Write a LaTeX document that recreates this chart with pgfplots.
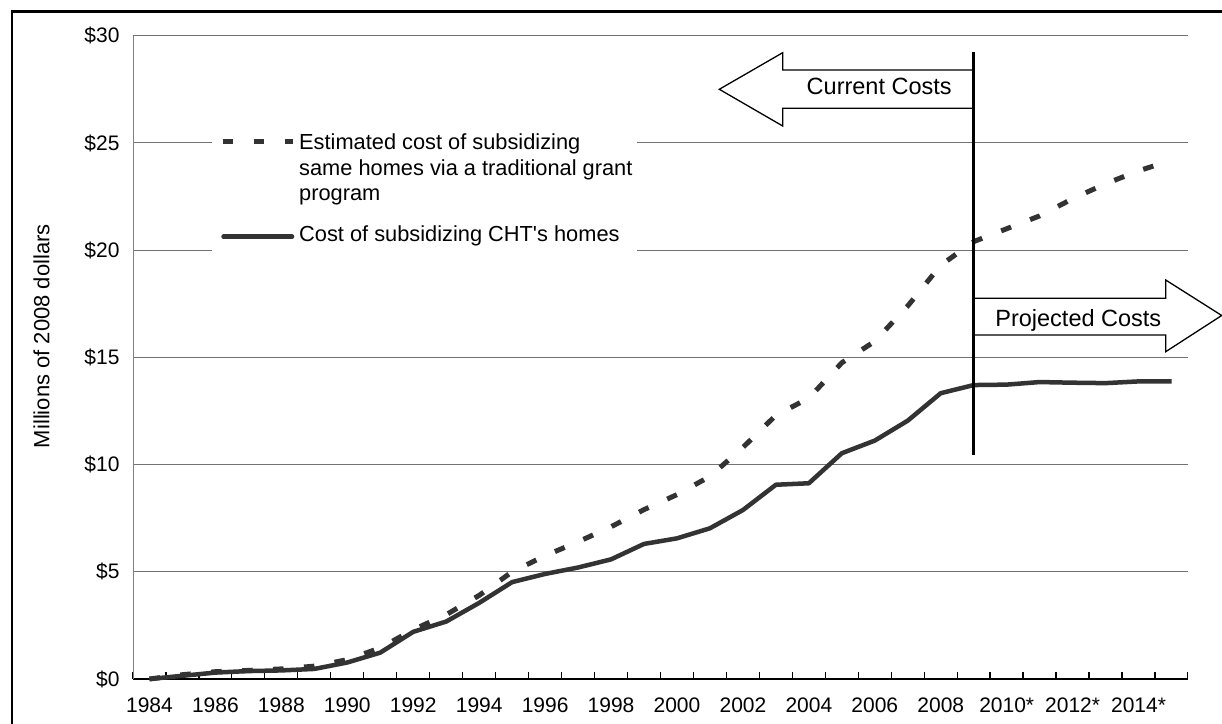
\documentclass[border=0pt]{standalone}
\usepackage{fontspec}
\setmainfont{Liberation Sans}[Ligatures=TeXOff]
\usepackage{pgfplots}
\pgfplotsset{compat=1.18}
\definecolor{ln}{HTML}{333333}
\begin{document}
\begin{tikzpicture}
\useasboundingbox (0,0) rectangle (1222pt,723pt);
\begin{axis}[
  at={(133pt,44pt)}, anchor=south west,
  scale only axis, width=1055pt, height=643.2pt,
  xmin=1983.5, xmax=2015.5, ymin=0, ymax=30,
  axis x line*=bottom, axis y line*=left,
  x axis line style={black, line width=1.3pt, -},
  y axis line style={black!50, line width=1pt, -},
  xtick={1984,1986,...,2014},
  xticklabels={1984,1986,1988,1990,1992,1994,1996,1998,2000,2002,2004,2006,2008,2010*,2012*,2014*},
  minor xtick={1983.5,1984.5,...,2015.5},
  ytick={0,5,...,30},
  yticklabels={\$0,\$5,\$10,\$15,\$20,\$25,\$30},
  ymajorgrids, major grid style={black!55, line width=1pt},
  tick align=inside,
  major tick length=0pt, minor tick length=7pt,
  minor x tick style={black, line width=1.2pt},
  ytick style={draw=none},
  /pgf/number format/assume math mode=true,
  xticklabel style={yshift=-15.7pt, font=\fontsize{21}{25}\selectfont},
  yticklabel style={xshift=-10pt, font=\fontsize{21}{25}\selectfont},
  ylabel={Millions of 2008 dollars},
  every axis y label/.style={at={(axis description cs:-0.0793,0.533)}, rotate=90, anchor=base, font=\fontsize{22}{26}\selectfont},
  clip=false,
]
\addplot[ln, line width=5pt, dash pattern=on 10.6pt off 20.4pt] coordinates {
(1984,0) (1985,0.2) (1986,0.34) (1987,0.4) (1988,0.47) (1989,0.6) (1990,0.9) (1991,1.45)
(1992,2.3) (1993,3.0) (1994,3.9) (1995,5.0) (1996,5.75) (1997,6.4) (1998,7.1) (1999,7.9)
(2000,8.6) (2001,9.45) (2002,10.8) (2003,12.3) (2004,13.1) (2005,14.75) (2006,15.75) (2007,17.4)
(2008,19.3) (2009,20.4) (2010,21.0) (2011,21.6) (2012,22.4) (2013,23.1) (2014,23.7) (2015,24.2)
};
\addplot[ln, line width=4.5pt, line join=round] coordinates {
(1984,0) (1985,0.15) (1986,0.3) (1987,0.37) (1988,0.4) (1989,0.47) (1990,0.77) (1991,1.23)
(1992,2.2) (1993,2.68) (1994,3.55) (1995,4.52) (1996,4.9) (1997,5.2) (1998,5.58) (1999,6.3)
(2000,6.56) (2001,7.03) (2002,7.88) (2003,9.06) (2004,9.13) (2005,10.53) (2006,11.12) (2007,12.05)
(2008,13.33) (2009,13.71) (2010,13.73) (2011,13.85) (2012,13.82) (2013,13.8) (2014,13.88) (2015,13.88)
};
\coordinate (vtop) at (axis cs:2009,29.23);
\coordinate (vbot) at (axis cs:2009,10.45);
\end{axis}
\begin{scope}[x=1pt, y=-1pt, yshift=723pt]
  % outer frame
  \draw[black, line width=2.5pt] (12,730) -- (12,11.7) -- (1230,11.7);
  % legend
  \fill[white] (212,112) rectangle (637,256);
  \draw[ln, line width=5pt, dash pattern=on 10.6pt off 20.4pt] (222.7,141.7) -- (293.3,141.7);
  \draw[ln, line width=4.5pt, line cap=round] (223.5,236.7) -- (292,236.7);
  \begin{scope}[every node/.style={anchor=base west, inner sep=0pt, font=\fontsize{21.8}{26}\selectfont}]
    \node at (299,149.5) {Estimated cost of subsidizing};
    \node at (299,175.5) {same homes via a traditional grant};
    \node at (299,201) {program};
    \node at (299,241.7) {Cost of subsidizing CHT's homes};
  \end{scope}
  % arrows
  \draw[black, line width=1.3pt, fill=white, line join=miter]
    (973,70) -- (782.7,70) -- (782.7,52.7) -- (719.3,89.3) -- (782.7,126) -- (782.7,108.3) -- (973,108.3);
  \node[anchor=base, font=\fontsize{23.5}{28}\selectfont] at (879.2,95) {Current Costs};
  \draw[black, line width=1.3pt, fill=white, line join=miter]
    (973,298.3) -- (1165.7,298.3) -- (1165.7,280) -- (1221.7,315.5) -- (1165.7,351.7) -- (1165.7,335) -- (973,335);
  \node[anchor=base, font=\fontsize{23.5}{28}\selectfont] at (1078.3,326.7) {Projected Costs};
\end{scope}
\draw[black, line width=3.5pt] (vtop) -- (vbot);
\end{tikzpicture}
\end{document}
